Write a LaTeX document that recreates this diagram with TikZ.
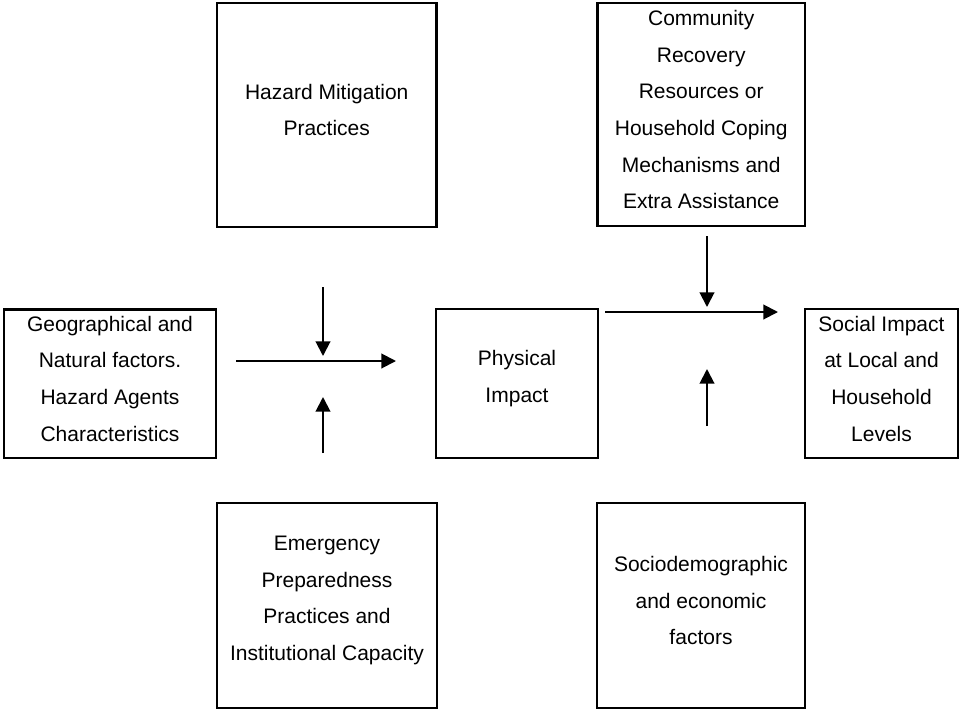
\documentclass[tikz,border=0pt]{standalone}
\usepackage{fontspec}
\setmainfont{Liberation Sans}
\usetikzlibrary{arrows.meta}
\begin{document}
\begin{tikzpicture}[x=0.75pt,y=-0.75pt,
  box/.style={draw, line width=2pt, inner sep=0pt},
  lbl/.style={align=center, inner sep=0pt, font=\fontsize{15.75}{27.5}\selectfont},
  arr/.style={line width=1.5pt, -{Triangle[length=11pt,width=11pt]}}]
\useasboundingbox (0,0) rectangle (961,711);
% boxes
\node[box, minimum width=219.5*0.75pt, minimum height=224*0.75pt] (haz) at (326.75,115) {};
\node[box, minimum width=207.5*0.75pt, minimum height=223*0.75pt] (com) at (701.25,114.5) {};
\node[box, minimum width=212*0.75pt, minimum height=148.5*0.75pt] (geo) at (110,383.75) {};
\node[box, minimum width=162*0.75pt, minimum height=149*0.75pt] (phy) at (517,383.5) {};
\node[box, minimum width=153*0.75pt, minimum height=149*0.75pt] (soc) at (881.5,383.5) {};
\node[box, minimum width=220*0.75pt, minimum height=205*0.75pt] (eme) at (327,605.5) {};
\node[box, minimum width=208*0.75pt, minimum height=205*0.75pt] (sde) at (701,605.5) {};
% labels
\node[lbl] (hazt) at ([yshift=3.75pt]haz.center) {Hazard Mitigation\\Practices};
\node[lbl] (comt) at ([yshift=3.75pt]com.center) {Community\\Recovery\\Resources or\\Household Coping\\Mechanisms and\\Extra Assistance};
\node[lbl] (geot) at ([yshift=3.75pt]geo.center) {Geographical and\\Natural factors.\\Hazard Agents\\Characteristics};
\node[lbl] (phyt) at ([yshift=3.75pt]phy.center) {Physical\\Impact};
\node[lbl] (soct) at ([yshift=3.75pt]soc.center) {Social Impact\\at Local and\\Household\\Levels};
\node[lbl] (emet) at ([yshift=3.75pt]eme.center) {Emergency\\Preparedness\\Practices and\\Institutional Capacity};
\node[lbl] (sdet) at ([yshift=3.75pt]sde.center) {Sociodemographic\\and economic\\factors};
% arrow end points
\coordinate (h1s) at (236,361);
\coordinate (h1e) at (396,361);
\coordinate (d1s) at (323,287);
\coordinate (d1e) at (323,356);
\coordinate (u1s) at (323,453);
\coordinate (u1e) at (323,397);
\coordinate (h2s) at (605,312);
\coordinate (h2e) at (778,312);
\coordinate (d2s) at (707,236);
\coordinate (d2e) at (707,307);
\coordinate (u2s) at (707,426);
\coordinate (u2e) at (707,369);
% arrows
\draw[arr] (h1s) -- (h1e);
\draw[arr] (d1s) -- (d1e);
\draw[arr] (u1s) -- (u1e);
\draw[arr] (h2s) -- (h2e);
\draw[arr] (d2s) -- (d2e);
\draw[arr] (u2s) -- (u2e);
\end{tikzpicture}
\end{document}
